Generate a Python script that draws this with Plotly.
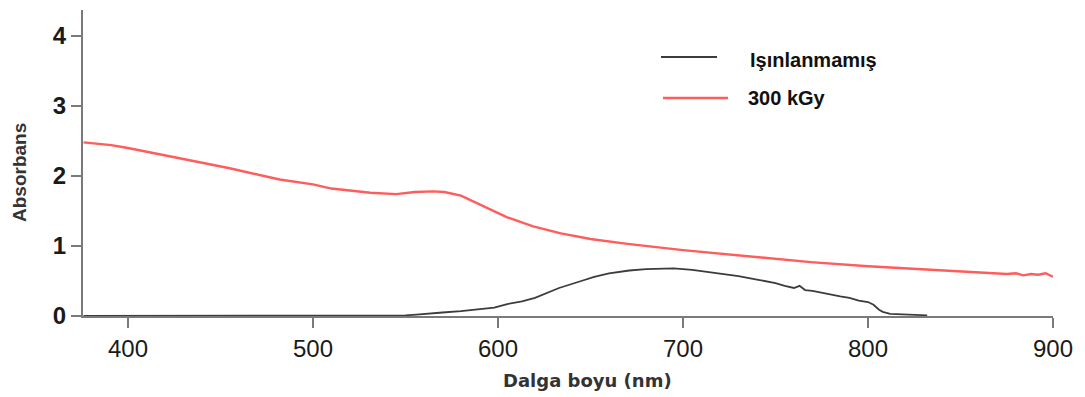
import plotly.graph_objects as go

# ---- data ----
wl_300kgy = [376, 391, 400, 428, 455, 482, 500, 510, 531, 545, 555, 565, 571, 580, 591,
             605, 619, 634, 650, 670, 700, 730, 769, 800, 830, 850, 870, 875, 880, 884,
             888, 892, 896, 900]
abs_300kgy = [2.48, 2.44, 2.40, 2.25, 2.11, 1.95, 1.88, 1.82, 1.76, 1.74, 1.77, 1.78, 1.77,
              1.72, 1.58, 1.41, 1.28, 1.18, 1.10, 1.03, 0.94, 0.87, 0.77, 0.71, 0.67, 0.64,
              0.61, 0.60, 0.61, 0.58, 0.60, 0.59, 0.61, 0.56]

wl_raw = [376, 500, 548, 550, 556, 563, 570, 580, 590, 598, 605, 613, 620, 633, 645, 652,
          660, 671, 680, 695, 705, 720, 730, 740, 745, 750, 755, 760, 763, 766, 770, 775,
          780, 785, 790, 795, 800, 803, 806, 808, 812, 820, 832]
abs_raw = [0.0, 0.0, 0.0, 0.01, 0.02, 0.03, 0.05, 0.07, 0.10, 0.12, 0.17, 0.21, 0.26, 0.40,
           0.50, 0.56, 0.61, 0.65, 0.67, 0.68, 0.66, 0.61, 0.57, 0.52, 0.50, 0.47, 0.43,
           0.40, 0.43, 0.37, 0.36, 0.33, 0.31, 0.28, 0.26, 0.22, 0.20, 0.16, 0.09, 0.06,
           0.03, 0.02, 0.01]

x_ticks = [400, 500, 600, 700, 800, 900]
y_ticks = [0, 1, 2, 3, 4]
legend_names = ["Işınlanmamış", "300 kGy"]
x_title = "Dalga boyu (nm)"
y_title = "Absorbans"

W, H = 1085, 397
L, R, T, B = 83, 32, 10, 81
pw, ph = W - L - R, H - T - B

def px(xpix):
    return (xpix - L) / pw

def py(ypix):
    return (H - B - ypix) / ph

BLACK = "#3c3c3c"
RED = "#ff5c5c"

fig = go.Figure()
fig.add_trace(go.Scatter(x=wl_raw, y=abs_raw, mode="lines", name=legend_names[0],
                         line=dict(color=BLACK, width=1.8), showlegend=False))
fig.add_trace(go.Scatter(x=wl_300kgy, y=abs_300kgy, mode="lines", name=legend_names[1],
                         line=dict(color=RED, width=2.4), showlegend=False))

axis_col = "#7a7a7a"
fig.update_layout(
    width=W, height=H,
    margin=dict(l=L, r=R, t=T, b=B, pad=0),
    paper_bgcolor="white", plot_bgcolor="white",
    showlegend=False,
    xaxis=dict(range=[375.7, 900], tickvals=x_ticks, ticks="outside", ticklen=10,
               tickwidth=2, tickcolor=axis_col, showline=True, linecolor=axis_col,
               linewidth=2, showgrid=False, zeroline=False, layer="below traces",
               tickfont=dict(family="Liberation Sans, Arial", size=24, color="#1a1a1a")),
    yaxis=dict(range=[0, 4.37], tickvals=y_ticks, ticks="outside", ticklen=10,
               tickwidth=2, tickcolor=axis_col, showline=True, linecolor=axis_col,
               linewidth=2, showgrid=False, zeroline=False, layer="below traces",
               tickfont=dict(family="Liberation Sans, Arial", size=24, color="#1a1a1a",
                             weight="bold")),
)

# axis titles
fig.add_annotation(text=y_title, xref="paper", yref="paper", x=px(19), y=py(173),
                   showarrow=False, textangle=-90, xanchor="center", yanchor="middle",
                   font=dict(family="Liberation Sans, Arial", size=19, color="#333",
                             weight="bold"))
fig.add_annotation(text=x_title, xref="paper", yref="paper", x=px(587), y=py(380),
                   showarrow=False, xanchor="center", yanchor="middle",
                   font=dict(family="DejaVu Sans", size=18, color="#333", weight="bold"))

# manual legend
fig.add_shape(type="line", xref="paper", yref="paper", x0=px(661), x1=px(717),
              y0=py(57), y1=py(57), line=dict(color=BLACK, width=1.8))
fig.add_shape(type="line", xref="paper", yref="paper", x0=px(663), x1=px(728),
              y0=py(98), y1=py(98), line=dict(color=RED, width=2.4))
fig.add_annotation(text=legend_names[0], xref="paper", yref="paper", x=px(748), y=py(60),
                   showarrow=False, xanchor="left", yanchor="middle",
                   font=dict(family="Liberation Sans, Arial", size=20, color="#111",
                             weight="bold"))
fig.add_annotation(text=legend_names[1], xref="paper", yref="paper", x=px(746), y=py(98),
                   showarrow=False, xanchor="left", yanchor="middle",
                   font=dict(family="Liberation Sans, Arial", size=20, color="#111",
                             weight="bold"))

fig.write_html("out.html", config={"displayModeBar": False},
               post_script="document.body.style.margin='0px';document.body.style.overflow='hidden';")
